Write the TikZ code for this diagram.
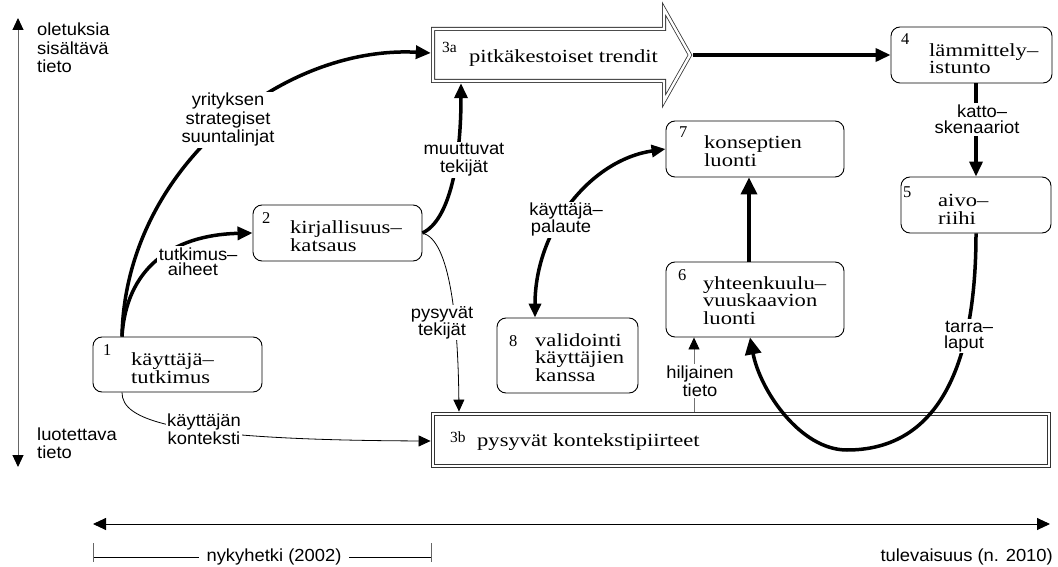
\documentclass[tikz,border=0pt]{standalone}
\usepackage{fontspec}
\usetikzlibrary{arrows.meta}
\newfontfamily\serifwide[FakeStretch=1.22]{Liberation Serif}
\newfontfamily\sanswide[FakeStretch=1.05]{Liberation Sans}
\newfontfamily\serifplain{Liberation Serif}
\newcommand\boxfont{\serifwide\fontsize{18.5}{17.5}\selectfont}
\newcommand\numfont{\serifplain\fontsize{16.5}{16}\selectfont}
\newcommand\smallnumfont{\serifplain\fontsize{15.5}{16}\selectfont}
\newcommand\lblfont[1]{\sanswide\fontsize{17.5}{#1}\selectfont}
\begin{document}
\begin{tikzpicture}[x=1pt,y=-1pt,
  box/.style={draw, line width=0.9pt, rounded corners=9pt, inner sep=0pt, fill=white},
  dbox/.style={draw=black!80, double, double distance=2.4pt, line width=0.8pt, inner sep=0pt},
  btext/.style={font=\boxfont, align=left, anchor=base west, inner sep=0pt},
  bnum/.style={font=\numfont, anchor=base west, inner sep=0pt},
  sidetext/.style={font=\lblfont{#1}, align=left, anchor=base west, inner sep=0pt},
  lbl/.style={font=\lblfont{#1}, align=center, anchor=base, fill=white, inner sep=1.5pt},
  thickarrow/.style={line width=3.5pt, -{Triangle[length=15pt,width=13pt]}},
  bigarrow/.style={line width=3.5pt, -{Triangle[length=17pt,width=16pt]}},
  thickboth/.style={line width=3.5pt, {Triangle[length=14pt,width=12pt]}-{Triangle[length=14pt,width=12pt]}},
  thinarrow/.style={line width=0.8pt, -{Triangle[length=12pt,width=11pt]}},
  grayarrow/.style={line width=0.9pt, draw=black!55, -{Triangle[length=12pt,width=11pt,color=black]}},
]
\useasboundingbox (0,0) rectangle (1058,567);

% ---- process boxes ----
\node[box, minimum width=169, minimum height=55] (n1) at (177.5,364.5) {};
\node[box, minimum width=169, minimum height=56] (n2) at (337.5,233) {};
\node[box, minimum width=161, minimum height=56] (n4) at (971.5,55) {};
\node[box, minimum width=150, minimum height=56] (n5) at (976,205) {};
\node[box, minimum width=178, minimum height=56] (n7) at (755,149) {};
\node[box, minimum width=178, minimum height=75] (n6) at (755,299.5) {};
\node[box, minimum width=141, minimum height=75] (n8) at (567.5,355.5) {};
\node[dbox, minimum width=616, minimum height=52] (n3b) at (741,440) {};

% long-term trends: a hollow block arrow
\node[inner sep=0pt, minimum width=235, minimum height=56] (n3a) at (548.5,55) {};
\draw[dbox] (433,29) -- (664,29) -- (664,9) -- (690,55) -- (664,101) -- (664,81) -- (433,81) -- cycle;
\coordinate (n3atip) at (693,55);

% ---- box texts (multi-line nodes sit on the baseline of their last line) ----
\node[bnum] (t1n) at (103,355) {1};
\node[btext] (t1) at (131,383) {käyttäjä–\\tutkimus};
\node[bnum] (t2n) at (262,223) {2};
\node[btext] (t2) at (290,251) {kirjallisuus–\\katsaus};
\node[bnum, font=\smallnumfont] (t3an) at (442,53) {3a};
\node[btext] (t3a) at (469,63) {pitkäkestoiset trendit};
\node[bnum] (t4n) at (901,45) {4};
\node[btext] (t4) at (929,74) {lämmittely–\\istunto};
\node[bnum] (t5n) at (903,197) {5};
\node[btext] (t5) at (938,224) {aivo–\\riihi};
\node[bnum] (t7n) at (679,138) {7};
\node[btext] (t7) at (704,166.5) {konseptien\\luonti};
\node[bnum] (t6n) at (678,280) {6};
\node[btext] (t6) at (703,324) {yhteenkuulu–\\vuuskaavion\\luonti};
\node[bnum] (t8n) at (509,346) {8};
\node[btext] (t8) at (535,381) {validointi\\käyttäjien\\kanssa};
\node[bnum, font=\smallnumfont] (t3bn) at (450,442) {3b};
\node[btext] (t3b) at (477,446) {pysyvät kontekstipiirteet};

% ---- connectors ----
\draw[thickarrow] (n3atip) -- (n4.west);
\draw[thickarrow] (n5.north |- n4.south) -- (n5.north);
\draw[bigarrow] ([xshift=-6pt]n6.north) -- ([xshift=-6pt]n7.south);
\draw[bigarrow] (n5.south) .. controls (976,380) and (930,450) .. (847,450)
  .. controls (800,450) and (760,390) .. ([xshift=-5pt]n6.south);
\draw[thickarrow] ([xshift=-55.5pt]n1.north) .. controls (125,170) and (280,45) .. ([yshift=2pt]n3a.west);
\draw[thickarrow] ([xshift=-55.5pt]n1.north) .. controls (126,270) and (170,235) .. (n2.west);
\draw[thickarrow] (n2.east) .. controls (450,220) and (461,160) .. ([xshift=-87.5pt]n3a.south);
\draw[thinarrow] (n2.east) .. controls (450,240) and (458,320) .. ([xshift=-282pt,yshift=2pt]n3b.north);
\draw[thinarrow] ([xshift=-55.5pt]n1.south) .. controls (122,420) and (170,440) .. ([xshift=-2pt,yshift=-1pt]n3b.west);
\draw[thickboth] ([xshift=-32.5pt]n8.north) .. controls (535,230) and (590,160) .. (n7.west);
\coordinate (hilj) at ([xshift=-61pt]n6.south);
\draw[grayarrow] ([yshift=2pt]n3b.north -| hilj) -- (hilj);

% ---- connector labels ----
\node[lbl=18.5] (lyrit) at (228,143) {yrityksen\\strategiset\\suuntalinjat};
\node[lbl=15.5] (ltutk) at (193,275.5) {tutkimus\rlap{–}\\aiheet};
\node[lbl=18] (lmuut) at (464,173) {muuttuvat\\tekijät};
\node[lbl=17] (lpysy) at (442,335) {pysyvät\\tekijät};
\node[lbl=15] (lpal) at (561,233) {käyttäjä\rlap{–}\\palaute};
\node[lbl=13.5] (lkont) at (204,444) {käyttäjän\\konteksti};
\node[lbl=18] (lhilj) at (700,396) {hiljainen\\tieto};
\node[lbl=16.5] (lkatto) at (977,134) {katto\rlap{–}\\skenaariot};
\node[lbl=16] (ltarra) at (964,348) {tarra\rlap{–}\\laput};

% ---- axes ----
\coordinate (vtop) at (18,18);
\coordinate (vbot) at (18,467);
\draw[line width=1pt, draw=black!60, {Triangle[length=12pt,width=11pt,color=black]}-{Triangle[length=12pt,width=11pt,color=black]}] (vtop) -- (vbot);
\node[sidetext=18.5] (ltop) at (37,73) {oletuksia\\sisältävä\\tieto};
\node[sidetext=18] (lbot) at (37,458) {luotettava\\tieto};

\coordinate (hl) at (93,524);
\coordinate (hr) at (1050,524);
\draw[line width=0.9pt, {Triangle[length=13pt,width=12pt]}-{Triangle[length=13pt,width=12pt]}] (hl) -- (hr);

\coordinate (bl) at (93,557);
\coordinate (br) at (431,557);
\draw[line width=0.9pt] (bl) -- (br);
\draw[line width=0.9pt, draw=black!60] ([yshift=14pt]bl) -- ([yshift=-5pt]bl);
\draw[line width=0.9pt, draw=black!60] ([yshift=14pt]br) -- ([yshift=-5pt]br);
\node[font=\lblfont{18}, anchor=base, fill=white, inner xsep=8pt, inner ysep=1pt] (lnow) at (274,561) {nykyhetki (2002)};
\node[font=\lblfont{18}, anchor=base east, inner sep=0pt] (lfut) at (1053,561) {tulevaisuus (n. 2010)};
\end{tikzpicture}
\end{document}
